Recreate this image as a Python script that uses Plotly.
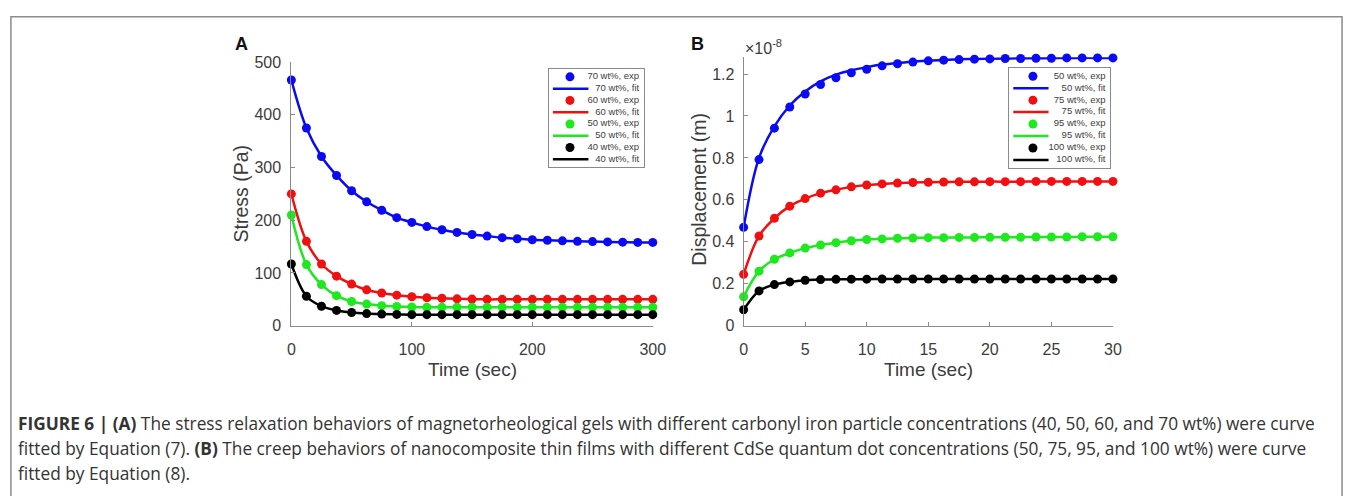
import plotly.graph_objects as go

# ---------------- data ----------------
time_A = [0, 12.5, 25, 37.5, 50, 62.5, 75, 87.5, 100, 112.5, 125, 137.5, 150,
          162.5, 175, 187.5, 200, 212.5, 225, 237.5, 250, 262.5, 275, 287.5, 300]
stress_70 = [466, 375, 321, 285, 256, 235, 219, 205, 196, 188, 182, 177, 173,
             170, 167, 165, 163, 162, 161, 160, 159.5, 159, 158.5, 158, 158]
stress_60 = [250, 160, 117, 94, 79, 68, 62, 58, 55, 53, 52, 51, 50.5,
             50, 50, 50, 50, 50, 50, 50, 50, 50, 50, 50, 50]
stress_50 = [210, 116, 78, 57, 46, 41, 38, 36.5, 35.5, 35, 35, 35, 35,
             35, 35, 35, 35, 35, 35, 35, 35, 35, 35, 35, 35]
stress_40 = [117, 56, 37, 29, 25, 23, 22, 21.5, 21, 21, 21, 21, 21,
             21, 21, 21, 21, 21, 21, 21, 21, 21, 21, 21, 21]

time_B = [0, 1.25, 2.5, 3.75, 5, 6.25, 7.5, 8.75, 10, 11.25, 12.5, 13.75, 15,
          16.25, 17.5, 18.75, 20, 21.25, 22.5, 23.75, 25, 26.25, 27.5, 28.75, 30]
disp_50 = [0.469, 0.792, 0.942, 1.043, 1.105, 1.150, 1.182, 1.206, 1.223, 1.239,
           1.249, 1.257, 1.263, 1.266, 1.269, 1.271, 1.272, 1.274, 1.274, 1.275,
           1.275, 1.277, 1.277, 1.277, 1.277]
disp_50_fit = [0.469, 0.800, 0.950, 1.050, 1.117, 1.165, 1.197, 1.218, 1.233, 1.245,
               1.253, 1.259, 1.264, 1.267, 1.270, 1.272, 1.273, 1.274, 1.275, 1.275,
               1.276, 1.276, 1.277, 1.277, 1.277]
disp_75 = [0.245, 0.428, 0.512, 0.570, 0.606, 0.632, 0.648, 0.662, 0.671, 0.676,
           0.680, 0.683, 0.684, 0.685, 0.686, 0.686, 0.687, 0.687, 0.687, 0.688,
           0.688, 0.688, 0.688, 0.688, 0.688]
disp_95 = [0.138, 0.260, 0.317, 0.347, 0.370, 0.385, 0.396, 0.405, 0.411, 0.414,
           0.417, 0.418, 0.420, 0.420, 0.421, 0.421, 0.422, 0.422, 0.422, 0.423,
           0.423, 0.423, 0.424, 0.424, 0.424]
disp_100 = [0.076, 0.166, 0.196, 0.209, 0.217, 0.220, 0.221, 0.222, 0.222, 0.223,
            0.223, 0.223, 0.223, 0.223, 0.223, 0.223, 0.223, 0.223, 0.223, 0.223,
            0.223, 0.223, 0.223, 0.223, 0.223]

labels_A = ["70 wt%", "60 wt%", "50 wt%", "40 wt%"]
labels_B = ["50 wt%", "75 wt%", "95 wt%", "100 wt%"]
colors = ["#0a0af5", "#f01010", "#1ee81e", "#000000"]

series_A = [(stress_70, stress_70), (stress_60, stress_60),
            (stress_50, stress_50), (stress_40, stress_40)]
series_B = [(disp_50, disp_50_fit), (disp_75, disp_75),
            (disp_95, disp_95), (disp_100, disp_100)]

ticks_A_x = [0, 100, 200, 300]
ticks_A_y = [0, 100, 200, 300, 400, 500]
ticks_B_x = [0, 5, 10, 15, 20, 25, 30]
ticks_B_y = [0, 0.2, 0.4, 0.6, 0.8, 1.0, 1.2]
ticktext_B_y = ["0", "0.2", "0.4", "0.6", "0.8", "1", "1.2"]

caption_lines = [
    "<b>FIGURE 6 | (A)</b> The stress relaxation behaviors of magnetorheological gels with different carbonyl iron particle concentrations (40, 50, 60, and 70 wt%) were curve",
    "fitted by Equation (7). <b>(B)</b> The creep behaviors of nanocomposite thin films with different CdSe quantum dot concentrations (50, 75, 95, and 100 wt%) were curve",
    "fitted by Equation (8).",
]

# ---------------- layout helpers ----------------
W, H = 1358, 496
def fx(p):
    return p / W
def fy(p):
    return 1 - p / H

AX_COL = "#8a8a8a"
TXT_COL = "#3c3c3c"
FONT = "Liberation Sans, Arial, sans-serif"

fig = go.Figure()

# data traces
for (exp, fit), c, lab in zip(series_A, colors, labels_A):
    fig.add_trace(go.Scatter(x=time_A, y=fit, mode="lines", line=dict(color=c, width=2.5, shape="spline"),
                             xaxis="x", yaxis="y", showlegend=False, cliponaxis=False, name=lab + ", fit"))
    fig.add_trace(go.Scatter(x=time_A, y=exp, mode="markers", marker=dict(color=c, size=9),
                             xaxis="x", yaxis="y", showlegend=False, cliponaxis=False, name=lab + ", exp"))
for (exp, fit), c, lab in zip(series_B, colors, labels_B):
    fig.add_trace(go.Scatter(x=time_B, y=fit, mode="lines", line=dict(color=c, width=2.5, shape="spline"),
                             xaxis="x2", yaxis="y2", showlegend=False, cliponaxis=False, name=lab + ", fit"))
    fig.add_trace(go.Scatter(x=time_B, y=exp, mode="markers", marker=dict(color=c, size=9),
                             xaxis="x2", yaxis="y2", showlegend=False, cliponaxis=False, name=lab + ", exp"))

# hand-built compact legends (MATLAB style) drawn in their own small axes
def add_legend(labels, xa, ya, mx, lx0, lx1, tx):
    for i, (lab, c) in enumerate(zip(labels, colors)):
        r_exp, r_fit = 2 * i, 2 * i + 1
        fig.add_trace(go.Scatter(x=[mx], y=[r_exp], mode="markers", marker=dict(color=c, size=9),
                                 xaxis=xa, yaxis=ya, showlegend=False, hoverinfo="skip", cliponaxis=False))
        fig.add_trace(go.Scatter(x=[lx0, lx1], y=[r_fit, r_fit], mode="lines", line=dict(color=c, width=2.5),
                                 xaxis=xa, yaxis=ya, showlegend=False, hoverinfo="skip", cliponaxis=False))
        fig.add_trace(go.Scatter(x=[tx, tx], y=[r_exp, r_fit], mode="text",
                                 text=[lab + ", exp", lab + ", fit"], textposition="middle left",
                                 textfont=dict(size=9.5, color="#404040", family=FONT),
                                 xaxis=xa, yaxis=ya, showlegend=False, hoverinfo="skip", cliponaxis=False))

add_legend(labels_A, "x3", "y3", 0.22, 0.04, 0.415, 0.95)
add_legend(labels_B, "x4", "y4", 0.235, 0.04, 0.39, 0.955)

common = dict(showgrid=False, zeroline=False, showline=True, linecolor=AX_COL, linewidth=1,
              ticks="inside", ticklen=4, tickcolor=AX_COL, tickwidth=1,
              tickfont=dict(size=16, color=TXT_COL, family=FONT))
leg_ax = dict(showgrid=False, zeroline=False, showline=True, mirror=True, linecolor="#8a8a8a",
              linewidth=1, showticklabels=False, ticks="", fixedrange=True)

fig.update_layout(
    width=W, height=H, margin=dict(l=0, r=0, t=0, b=0),
    paper_bgcolor="white", plot_bgcolor="rgba(0,0,0,0)",
    font=dict(family=FONT, color=TXT_COL),
    xaxis=dict(domain=[fx(291), fx(657)], range=[0, 300], tickvals=ticks_A_x, anchor="y",
               ticklabelstandoff=9, **common),
    yaxis=dict(domain=[fy(329), fy(56)], range=[0, 500], tickvals=ticks_A_y, anchor="x",
               ticklabelstandoff=6, **common),
    xaxis2=dict(domain=[fx(749), fx(1123)], range=[0, 30], tickvals=ticks_B_x, anchor="y2",
                ticklabelstandoff=9, **common),
    yaxis2=dict(domain=[fy(329), fy(51)], range=[0, 1.28], tickvals=ticks_B_y, ticktext=ticktext_B_y,
                anchor="x2", ticklabelstandoff=5, **common),
    xaxis3=dict(domain=[fx(552), fx(648)], range=[0, 1], anchor="y3", **leg_ax),
    yaxis3=dict(domain=[fy(165), fy(63)], range=[7.68, -0.68], anchor="x3", **leg_ax),
    xaxis4=dict(domain=[fx(1018), fx(1120)], range=[0, 1], anchor="y4", **leg_ax),
    yaxis4=dict(domain=[fy(166), fy(62)], range=[7.7, -0.7], anchor="x4", **leg_ax),
)

ann = []
# axis titles
ann.append(dict(text="Stress (Pa)", x=fx(240), y=fy(192), xref="paper", yref="paper", textangle=-90,
                showarrow=False, font=dict(size=19.5, color=TXT_COL, family=FONT), xanchor="center", yanchor="middle"))
ann.append(dict(text="Displacement (m)", x=fx(703), y=fy(188), xref="paper", yref="paper", textangle=-90,
                showarrow=False, font=dict(size=19.5, color=TXT_COL, family=FONT), xanchor="center", yanchor="middle"))
ann.append(dict(text="Time (sec)", x=fx(474), y=fy(374), xref="paper", yref="paper",
                showarrow=False, font=dict(size=19, color=TXT_COL, family=FONT), xanchor="center", yanchor="middle"))
ann.append(dict(text="Time (sec)", x=fx(936), y=fy(374), xref="paper", yref="paper",
                showarrow=False, font=dict(size=19, color=TXT_COL, family=FONT), xanchor="center", yanchor="middle"))
# panel letters
ann.append(dict(text="<b>A</b>", x=fx(241), y=fy(37), xref="paper", yref="paper", showarrow=False,
                font=dict(size=18, color="#111111", family=FONT), xanchor="center", yanchor="middle"))
ann.append(dict(text="<b>B</b>", x=fx(702), y=fy(37), xref="paper", yref="paper", showarrow=False,
                font=dict(size=18, color="#111111", family=FONT), xanchor="center", yanchor="middle"))
ann.append(dict(text="×10<sup>-8</sup>", x=fx(748), y=fy(40), xref="paper", yref="paper", showarrow=False,
                font=dict(size=16, color=TXT_COL, family=FONT), xanchor="left", yanchor="middle"))
# caption
for i, line in enumerate(caption_lines):
    ann.append(dict(text=line, x=fx(12), y=fy(430 + 26 * i), xref="paper", yref="paper", showarrow=False,
                    font=dict(size=17.3, color="#333333", family="Open Sans, sans-serif"),
                    xanchor="left", yanchor="middle", align="left"))
fig.update_layout(annotations=ann)

# outer frame
fig.add_shape(type="rect", xref="paper", yref="paper", x0=fx(7), x1=fx(1355), y0=fy(520), y1=fy(9),
              line=dict(color="#8c8c8c", width=1.5), fillcolor="rgba(0,0,0,0)", layer="below")

fig.write_html("out.html")
